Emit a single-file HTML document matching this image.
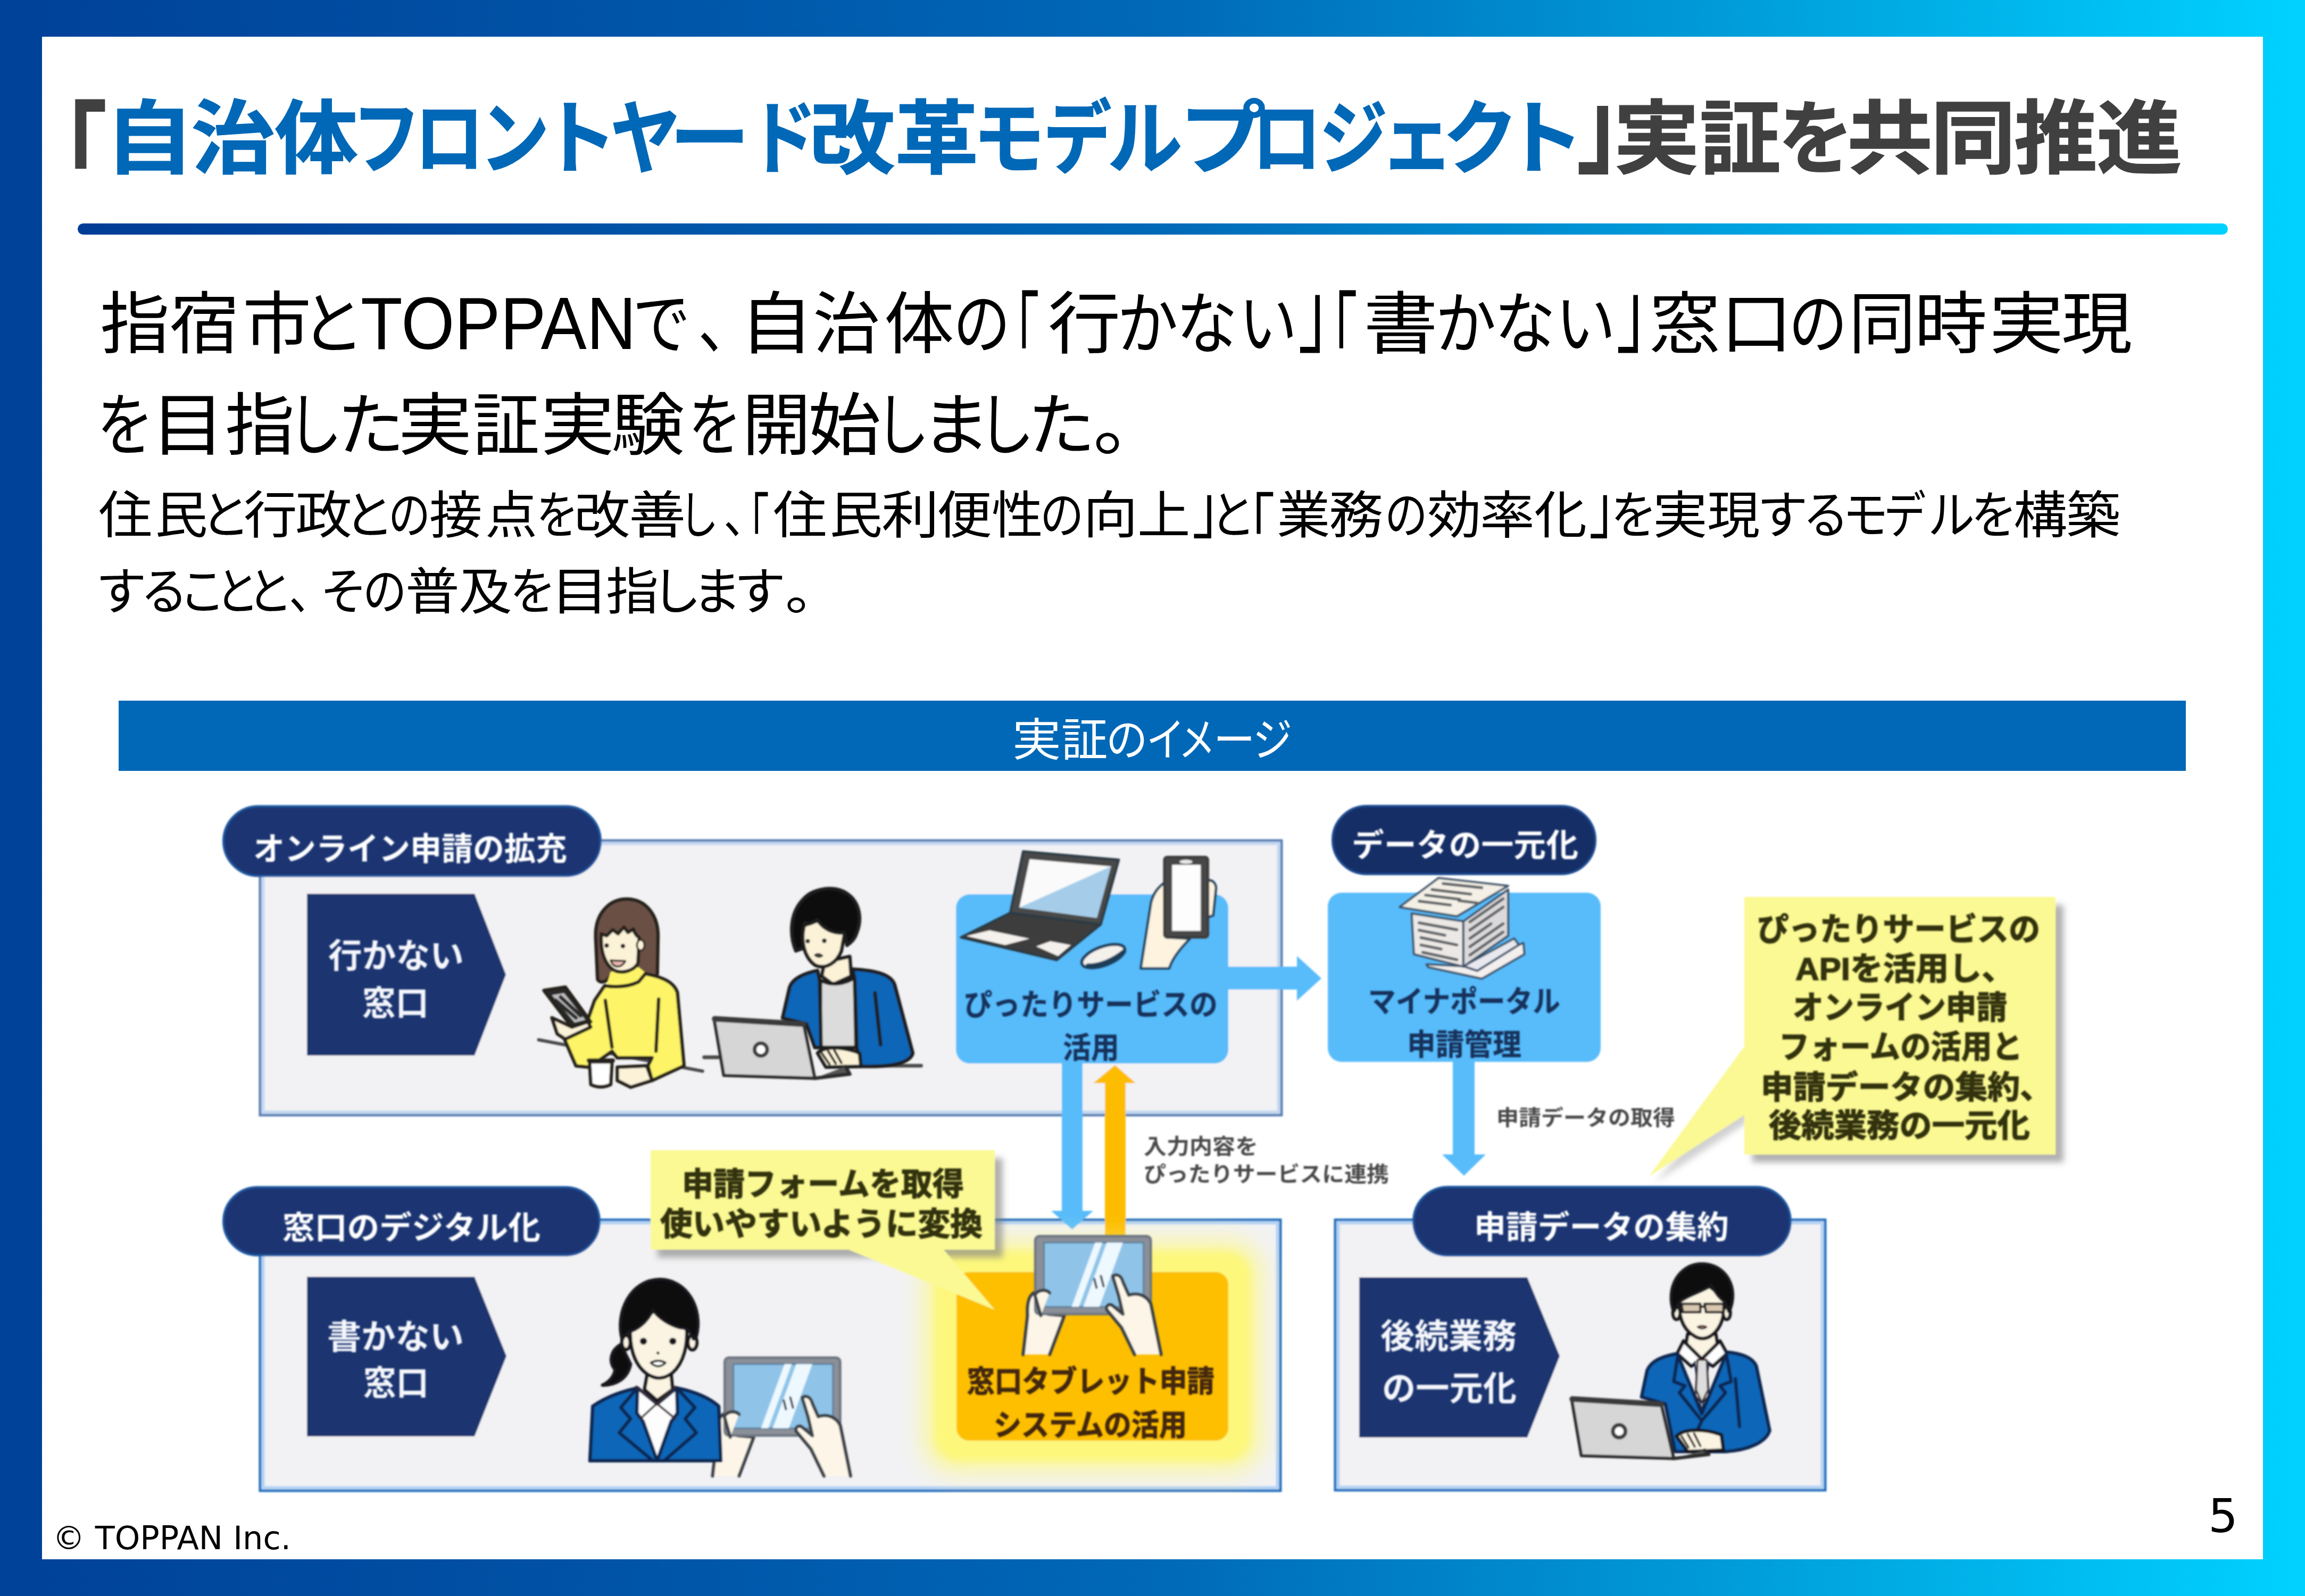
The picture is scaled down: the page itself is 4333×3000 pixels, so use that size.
<!DOCTYPE html>
<html lang="ja">
<head>
<meta charset="utf-8">
<title>自治体フロントヤード改革モデルプロジェクト</title>
<style>
html,body{margin:0;padding:0;}
body{width:4333px;height:3000px;overflow:hidden;position:relative;
 background:linear-gradient(90deg,#004199 0%,#0052a6 25%,#0068b7 50%,#009cd9 75%,#00d2ff 100%);
 font-family:"Liberation Sans","Noto Sans CJK JP",sans-serif;}
#panel{position:absolute;left:79px;top:69px;width:4175px;height:2862px;background:#fff;}
.r{position:absolute;white-space:nowrap;transform-origin:0 0;line-height:1;font-family:"Liberation Sans","Noto Sans CJK JP",sans-serif;}
#rule{position:absolute;left:146px;top:420px;width:4042px;height:21px;border-radius:11px;
 background:linear-gradient(90deg,#003c96 0%,#0068b7 50%,#00d2ff 100%);}
#banner{position:absolute;left:223px;top:1317px;width:3886px;height:132px;background:#0068b7;}
#copy{position:absolute;left:99px;top:2861px;font-size:60.5px;line-height:1;font-family:"DejaVu Sans","Liberation Sans",sans-serif;color:#000;white-space:nowrap;}
#pg{position:absolute;left:4151px;top:2806px;font-size:88px;line-height:1;font-family:"DejaVu Sans","Liberation Sans",sans-serif;color:#000;}
#dg{position:absolute;left:0;top:0;width:4333px;height:3000px;}
.title{font-size:160px;font-weight:700;top:185.9px;color:#000}
.l1{font-size:136px;font-weight:400;top:545.9px;color:#000}
.l2{font-size:136px;font-weight:400;top:737.0px;color:#000}
.l3{font-size:104px;font-weight:400;top:921.0px;color:#000}
.l4{font-size:104px;font-weight:400;top:1064.7px;color:#000}
.banner{font-size:90px;font-weight:400;top:1348.6px;color:#fff}
.title{-webkit-text-stroke:1.5px currentColor;}
</style>
</head>
<body>
<div id="panel"></div>
<div id="rule"></div>
<div id="banner"></div>
<div class="ln" aria-label="「自治体フロントヤード改革モデルプロジェクト」実証を共同推進"><span class="r title" style="left:37.4px;top:190.0px;transform:scale(1.026,1.254);color:#404040">「</span><span class="r title" style="left:197.3px;transform:scale(1.048,0.945);color:#0068b7">自</span><span class="r title" style="left:358.5px;transform:scale(0.989,0.945);color:#0068b7">治</span><span class="r title" style="left:516.0px;transform:scale(0.981,0.945);color:#0068b7">体</span><span class="r title" style="left:661.8px;transform:scale(0.804,0.945);color:#0068b7">フ</span><span class="r title" style="left:778.6px;transform:scale(0.818,0.945);color:#0068b7">ロ</span><span class="r title" style="left:901.5px;transform:scale(0.817,0.945);color:#0068b7">ン</span><span class="r title" style="left:1016.8px;transform:scale(0.893,0.945);color:#0068b7">ト</span><span class="r title" style="left:1147.4px;transform:scale(0.824,0.945);color:#0068b7">ヤ</span><span class="r title" style="left:1258.9px;transform:scale(0.938,0.945);color:#0068b7">ー</span><span class="r title" style="left:1406.7px;transform:scale(0.802,0.945);color:#0068b7">ド</span><span class="r title" style="left:1520.5px;transform:scale(1.010,0.945);color:#0068b7">改</span><span class="r title" style="left:1682.1px;transform:scale(0.983,0.945);color:#0068b7">革</span><span class="r title" style="left:1828.6px;transform:scale(0.845,0.945);color:#0068b7">モ</span><span class="r title" style="left:1960.9px;transform:scale(0.803,0.945);color:#0068b7">デ</span><span class="r title" style="left:2081.5px;transform:scale(0.880,0.945);color:#0068b7">ル</span><span class="r title" style="left:2216.8px;transform:scale(1.020,0.945);color:#0068b7">プ</span><span class="r title" style="left:2352.6px;transform:scale(0.818,0.945);color:#0068b7">ロ</span><span class="r title" style="left:2480.2px;transform:scale(0.801,0.945);color:#0068b7">ジ</span><span class="r title" style="left:2594.0px;transform:scale(0.868,0.945);color:#0068b7">ェ</span><span class="r title" style="left:2712.4px;transform:scale(0.886,0.945);color:#0068b7">ク</span><span class="r title" style="left:2824.8px;transform:scale(0.954,0.945);color:#0068b7">ト</span><span class="r title" style="left:2964.0px;top:141.3px;transform:scale(1.011,1.238);color:#404040">」</span><span class="r title" style="left:3032.9px;transform:scale(1.014,0.945);color:#404040">実</span><span class="r title" style="left:3195.2px;transform:scale(0.954,0.945);color:#404040">証</span><span class="r title" style="left:3342.9px;transform:scale(0.880,0.945);color:#404040">を</span><span class="r title" style="left:3471.7px;transform:scale(1.008,0.945);color:#404040">共</span><span class="r title" style="left:3629.0px;transform:scale(1.004,0.945);color:#404040">同</span><span class="r title" style="left:3786.1px;transform:scale(0.980,0.945);color:#404040">推</span><span class="r title" style="left:3940.6px;transform:scale(1.006,0.945);color:#404040">進</span></div>
<div class="ln" aria-label="指宿市とTOPPANで、自治体の「行かない」「書かない」窓口の同時実現"><span class="r l1" style="left:187.5px;transform:scale(0.963,0.937)">指</span><span class="r l1" style="left:319.1px;transform:scale(0.965,0.937)">宿</span><span class="r l1" style="left:456.3px;transform:scale(0.951,0.937)">市</span><span class="r l1" style="left:566.4px;transform:scale(0.874,0.937)">と</span><span class="r l1" style="left:677.6px;top:537.5px;transform:scale(0.947,1.026)">TOPPAN</span><span class="r l1" style="left:1188.8px;transform:scale(0.799,0.937)">で</span><span class="r l1" style="left:1312.0px;transform:scale(0.800,0.937)">、</span><span class="r l1" style="left:1389.5px;transform:scale(1.021,0.937)">自</span><span class="r l1" style="left:1527.5px;transform:scale(0.930,0.937)">治</span><span class="r l1" style="left:1662.1px;transform:scale(0.969,0.937)">体</span><span class="r l1" style="left:1791.9px;transform:scale(0.789,0.937)">の</span><span class="r l1" style="left:1861.4px;top:546.2px;transform:scale(0.684,1.236)">「</span><span class="r l1" style="left:1969.5px;transform:scale(1.004,0.937)">行</span><span class="r l1" style="left:2099.5px;transform:scale(0.843,0.937)">か</span><span class="r l1" style="left:2210.6px;transform:scale(0.849,0.937)">な</span><span class="r l1" style="left:2329.3px;transform:scale(0.806,0.937)">い</span><span class="r l1" style="left:2439.7px;top:507.0px;transform:scale(0.860,1.236)">」</span><span class="r l1" style="left:2453.6px;top:546.2px;transform:scale(0.721,1.236)">「</span><span class="r l1" style="left:2562.8px;transform:scale(1.030,0.937)">書</span><span class="r l1" style="left:2697.7px;transform:scale(0.842,0.937)">か</span><span class="r l1" style="left:2808.7px;transform:scale(0.848,0.937)">な</span><span class="r l1" style="left:2923.8px;transform:scale(0.833,0.937)">い</span><span class="r l1" style="left:3037.7px;top:507.0px;transform:scale(0.860,1.236)">」</span><span class="r l1" style="left:3099.6px;transform:scale(0.985,0.937)">窓</span><span class="r l1" style="left:3234.1px;transform:scale(0.996,0.937)">口</span><span class="r l1" style="left:3362.2px;transform:scale(0.816,0.937)">の</span><span class="r l1" style="left:3475.0px;transform:scale(0.930,0.937)">同</span><span class="r l1" style="left:3597.9px;transform:scale(1.012,0.937)">時</span><span class="r l1" style="left:3738.7px;transform:scale(1.033,0.937)">実</span><span class="r l1" style="left:3875.1px;transform:scale(0.981,0.937)">現</span></div>
<div class="ln" aria-label="を目指した実証実験を開始しました。"><span class="r l2" style="left:182.3px;transform:scale(0.789,0.940)">を</span><span class="r l2" style="left:283.3px;transform:scale(1.032,0.940)">目</span><span class="r l2" style="left:422.7px;transform:scale(0.963,0.940)">指</span><span class="r l2" style="left:541.0px;transform:scale(0.750,0.940)">し</span><span class="r l2" style="left:633.6px;transform:scale(0.930,0.940)">た</span><span class="r l2" style="left:748.3px;transform:scale(1.026,0.940)">実</span><span class="r l2" style="left:888.3px;transform:scale(0.930,0.940)">証</span><span class="r l2" style="left:1016.2px;transform:scale(1.026,0.940)">実</span><span class="r l2" style="left:1148.9px;transform:scale(1.016,0.940)">験</span><span class="r l2" style="left:1294.0px;transform:scale(0.737,0.940)">を</span><span class="r l2" style="left:1395.3px;transform:scale(0.950,0.940)">開</span><span class="r l2" style="left:1519.0px;transform:scale(1.008,0.940)">始</span><span class="r l2" style="left:1645.0px;transform:scale(0.751,0.940)">し</span><span class="r l2" style="left:1732.2px;transform:scale(0.953,0.940)">ま</span><span class="r l2" style="left:1838.4px;transform:scale(0.783,0.940)">し</span><span class="r l2" style="left:1931.9px;transform:scale(0.934,0.940)">た</span><span class="r l2" style="left:2054.9px;transform:scale(1.024,0.940)">。</span></div>
<div class="ln" aria-label="住民と行政との接点を改善し、「住民利便性の向上」と「業務の効率化」を実現するモデルを構築"><span class="r l3" style="left:185.0px;transform:scale(0.978,0.923)">住</span><span class="r l3" style="left:291.3px;transform:scale(0.957,0.923)">民</span><span class="r l3" style="left:376.8px;transform:scale(0.897,0.923)">と</span><span class="r l3" style="left:457.6px;transform:scale(0.969,0.923)">行</span><span class="r l3" style="left:554.9px;transform:scale(1.029,0.923)">政</span><span class="r l3" style="left:647.1px;transform:scale(0.902,0.923)">と</span><span class="r l3" style="left:729.9px;transform:scale(0.762,0.923)">の</span><span class="r l3" style="left:807.1px;transform:scale(0.959,0.923)">接</span><span class="r l3" style="left:912.3px;transform:scale(0.943,0.923)">点</span><span class="r l3" style="left:1008.3px;transform:scale(0.765,0.923)">を</span><span class="r l3" style="left:1079.4px;transform:scale(1.016,0.923)">改</span><span class="r l3" style="left:1181.8px;transform:scale(1.032,0.923)">善</span><span class="r l3" style="left:1277.4px;transform:scale(0.706,0.923)">し</span><span class="r l3" style="left:1360.4px;transform:scale(0.800,0.923)">、</span><span class="r l3" style="left:1369.9px;top:925.2px;transform:scale(0.731,1.162)">「</span><span class="r l3" style="left:1452.6px;transform:scale(0.979,0.923)">住</span><span class="r l3" style="left:1558.8px;transform:scale(0.960,0.923)">民</span><span class="r l3" style="left:1656.9px;transform:scale(1.043,0.923)">利</span><span class="r l3" style="left:1760.8px;transform:scale(0.999,0.923)">便</span><span class="r l3" style="left:1864.1px;transform:scale(0.930,0.923)">性</span><span class="r l3" style="left:1955.4px;transform:scale(0.794,0.923)">の</span><span class="r l3" style="left:2035.9px;transform:scale(0.990,0.923)">向</span><span class="r l3" style="left:2138.2px;transform:scale(0.957,0.923)">上</span><span class="r l3" style="left:2241.1px;top:894.7px;transform:scale(0.987,1.199)">」</span><span class="r l3" style="left:2274.8px;transform:scale(0.818,0.923)">と</span><span class="r l3" style="left:2299.2px;top:925.2px;transform:scale(0.938,1.162)">「</span><span class="r l3" style="left:2400.2px;transform:scale(0.968,0.923)">業</span><span class="r l3" style="left:2498.1px;transform:scale(0.986,0.923)">務</span><span class="r l3" style="left:2603.0px;transform:scale(0.776,0.923)">の</span><span class="r l3" style="left:2683.0px;transform:scale(0.978,0.923)">効</span><span class="r l3" style="left:2781.6px;transform:scale(0.989,0.923)">率</span><span class="r l3" style="left:2883.5px;transform:scale(0.955,0.923)">化</span><span class="r l3" style="left:2987.3px;top:894.7px;transform:scale(0.931,1.199)">」</span><span class="r l3" style="left:3028.1px;transform:scale(0.835,0.923)">を</span><span class="r l3" style="left:3106.9px;transform:scale(0.988,0.923)">実</span><span class="r l3" style="left:3208.8px;transform:scale(0.956,0.923)">現</span><span class="r l3" style="left:3302.8px;transform:scale(0.920,0.923)">す</span><span class="r l3" style="left:3389.0px;transform:scale(0.831,0.923)">る</span><span class="r l3" style="left:3463.6px;transform:scale(0.823,0.923)">モ</span><span class="r l3" style="left:3541.1px;transform:scale(0.763,0.923)">デ</span><span class="r l3" style="left:3623.8px;transform:scale(0.849,0.923)">ル</span><span class="r l3" style="left:3704.6px;transform:scale(0.836,0.923)">を</span><span class="r l3" style="left:3784.7px;transform:scale(0.973,0.923)">構</span><span class="r l3" style="left:3883.7px;transform:scale(0.983,0.923)">築</span></div>
<div class="ln" aria-label="することと、その普及を目指します。"><span class="r l4" style="left:179.8px;transform:scale(0.920,0.920)">す</span><span class="r l4" style="left:263.7px;transform:scale(0.857,0.920)">る</span><span class="r l4" style="left:337.0px;transform:scale(0.833,0.920)">こ</span><span class="r l4" style="left:405.0px;transform:scale(0.789,0.920)">と</span><span class="r l4" style="left:464.8px;transform:scale(0.818,0.920)">と</span><span class="r l4" style="left:543.1px;transform:scale(0.800,0.920)">、</span><span class="r l4" style="left:601.5px;transform:scale(0.846,0.920)">そ</span><span class="r l4" style="left:681.9px;transform:scale(0.794,0.920)">の</span><span class="r l4" style="left:762.1px;transform:scale(0.979,0.920)">普</span><span class="r l4" style="left:862.1px;transform:scale(0.964,0.920)">及</span><span class="r l4" style="left:957.6px;transform:scale(0.840,0.920)">を</span><span class="r l4" style="left:1034.6px;transform:scale(1.050,0.920)">目</span><span class="r l4" style="left:1139.2px;transform:scale(0.953,0.920)">指</span><span class="r l4" style="left:1224.6px;transform:scale(0.897,0.920)">し</span><span class="r l4" style="left:1301.8px;transform:scale(0.880,0.920)">ま</span><span class="r l4" style="left:1380.4px;transform:scale(0.934,0.920)">す</span><span class="r l4" style="left:1475.9px;transform:scale(1.031,0.920)">。</span></div>
<div class="ln" aria-label="実証のイメージ"><span class="r banner" style="left:1902.5px;transform:scale(1.018,0.950)">実</span><span class="r banner" style="left:1994.9px;transform:scale(0.971,0.950)">証</span><span class="r banner" style="left:2079.0px;transform:scale(0.872,0.950)">の</span><span class="r banner" style="left:2154.6px;transform:scale(0.804,0.950)">イ</span><span class="r banner" style="left:2214.8px;transform:scale(0.778,0.950)">メ</span><span class="r banner" style="left:2281.2px;transform:scale(0.872,0.950)">ー</span><span class="r banner" style="left:2354.6px;transform:scale(0.825,0.950)">ジ</span></div>

<svg id="dg" viewBox="0 0 4333 3000" width="4333" height="3000" font-family="'Liberation Sans','Noto Sans CJK JP',sans-serif" font-weight="700">
<defs>
<filter id="sh" x="-10%" y="-10%" width="130%" height="130%"><feGaussianBlur stdDeviation="6"/></filter>
<filter id="glow" x="-20%" y="-20%" width="140%" height="140%"><feGaussianBlur stdDeviation="7"/></filter>
<filter id="soft" x="-5%" y="-5%" width="110%" height="110%"><feGaussianBlur stdDeviation="1.6"/></filter>
<filter id="glow2" x="-30%" y="-30%" width="160%" height="160%"><feGaussianBlur stdDeviation="22"/></filter>
</defs>
<g filter="url(#soft)">
<!-- gray boxes -->
<rect x="489" y="1580" width="1920" height="516" fill="#f2f2f4" stroke="#5b7fb4" stroke-width="5"/>
<rect x="494.500" y="1585.500" width="1909" height="505" fill="none" stroke="#c3d8f2" stroke-width="6"/>
<rect x="489" y="2293" width="1918" height="509" fill="#f2f2f4" stroke="#1e6fbe" stroke-width="5"/>
<rect x="494.500" y="2298.500" width="1907" height="498" fill="none" stroke="#b4d3f4" stroke-width="6"/>
<rect x="2510" y="2293" width="921" height="508" fill="#f2f2f4" stroke="#1e6fbe" stroke-width="5"/>
<rect x="2515.500" y="2298.500" width="910" height="497" fill="none" stroke="#b4d3f4" stroke-width="6"/>
<!-- pentagons -->
<path d="M577,1680 H892 L951,1832 L892,1984 H577 Z" fill="#1b3570"/>
<path d="M577,2400 H892 L952,2549 L892,2700 H577 Z" fill="#1b3570"/>
<path d="M2555,2401 H2871 L2932,2549 L2871,2702 H2555 Z" fill="#1b3570"/>
<!-- light blue boxes -->
<rect x="1797" y="1681" width="512" height="318" rx="26" fill="#58bcfb"/>
<rect x="2496" y="1678" width="513" height="318" rx="26" fill="#58bcfb"/>
<!-- arrows -->
<path d="M2305,1817 H2438 V1797 L2484,1839 L2438,1881 V1860 H2305 Z" fill="#58bcfb"/>
<path d="M2731,1990 H2772 V2170 H2793 L2752,2210 L2711,2170 H2731 Z" fill="#58bcfb"/>
<path d="M1996,1990 H2035 V2276 H2055 L2015.500,2311 L1976,2276 H1996 Z" fill="#58bcfb"/>
<path d="M2077,2400 V2036 H2055 L2096,2002 L2135,2036 H2116 V2400 Z" fill="#fdbc00"/>
<!-- orange box with glow -->
<rect x="1735" y="2330" width="638" height="438" rx="60" fill="#fdf88a" filter="url(#glow2)" opacity=".8"/>
<rect x="1757" y="2352" width="594" height="394" rx="46" fill="#fdf77c" filter="url(#glow)"/>
<rect x="1798" y="2391" width="511" height="317" rx="24" fill="#fdbf00"/>
<!-- callout 1 (right) -->
<g>
<path d="M3294,1701 H3879 V2185 H3294 Z" fill="#7d7d7d" filter="url(#sh)" opacity=".6"/>
<path d="M3300,2100 L3112,2222 L3300,2000 Z" fill="#9a9a9a" filter="url(#sh)" opacity=".45"/>
<path d="M3279,1686 H3864 V2170 H3279 V2096 L3100,2211 L3279,1967 Z" fill="#fbf994"/>
</g>
<!-- callout 2 -->
<g>
<path d="M1236,2177 H1885 V2364 H1236 Z" fill="#7d7d7d" filter="url(#sh)" opacity=".6"/>
<path d="M1223,2162 H1870 V2349 H1774 L1870,2462 L1595,2349 H1223 Z" fill="#fbf994"/>
</g>
<!-- pills -->
<rect x="420" y="1515.500" width="709" height="131" rx="65.500" fill="#1b3672" stroke="#1d56a0" stroke-width="4"/>
<rect x="420" y="2231.500" width="707" height="128" rx="64" fill="#1b3672" stroke="#1d56a0" stroke-width="4"/>
<rect x="2657" y="2231" width="709" height="129" rx="64.500" fill="#1b3672" stroke="#1d56a0" stroke-width="4"/>
<rect x="2505" y="1515" width="494" height="128" rx="64" fill="#162f66" stroke="#1d4a90" stroke-width="4"/>
</g>
<g filter="url(#soft)" stroke-linejoin="round" stroke-linecap="round">
<!-- woman with phone -->
<g transform="translate(1000,1680) scale(0.2507)" stroke="#26241a" stroke-width="26">
<path d="M50,1095 L1280,1330" stroke="#4a4a4a" stroke-width="24" fill="none"/>
<path d="M492,640 L478,330 C470,150 580,40 710,40 C860,40 950,170 945,330 L940,600 C920,650 870,640 840,610 L790,560 L600,600 L560,650 C530,670 500,660 492,640 Z" fill="#6b4f45"/>
<path d="M590,585 L800,550 L860,600 L800,690 L555,700 Z" fill="#fdf467" stroke="none"/>
<path d="M520,300 C512,420 540,520 610,570 C680,610 770,570 795,520 L805,330 C790,320 770,300 760,265 L720,290 L690,250 L645,300 L605,270 L560,315 Z" fill="#fbf2d8"/>
<ellipse cx="815" cy="385" rx="28" ry="40" fill="#fbf2d8" stroke-width="14"/>
<circle cx="560" cy="388" r="17" fill="#26241a" stroke="none"/>
<circle cx="682" cy="392" r="17" fill="#26241a" stroke="none"/>
<path d="M590,500 C610,560 670,560 700,505 Z" fill="#e9b8b0" stroke-width="14"/>
<path d="M545,690 L470,800 L400,1000 L240,1080 L330,1290 L430,1300 L600,1180 L640,1230 L900,1230 L870,1290 L900,1400 L1140,1290 L1090,740 C1060,650 950,620 850,600 L800,660 C720,700 620,700 545,690 Z" fill="#fdf467"/>
<path d="M550,800 L600,1150 M950,790 L930,1180" fill="none"/>
<path d="M640,1300 L860,1290 L900,1400 L740,1450 L640,1400 Z" fill="#fbf2d8"/>
<path d="M90,725 L250,700 L440,960 L300,1000 Z" fill="#2c2c2c"/>
<path d="M150,760 L240,745 L400,945 L320,965 Z" fill="#bdbdbd" stroke="none"/>
<path d="M180,800 L330,930 M215,775 L365,915" stroke="#2c2c2c" stroke-width="28" fill="none"/>
<path d="M150,930 L300,1000 L420,960 L440,1000 L250,1090 L190,1050 Z" fill="#fbf2d8"/>
<path d="M432,1260 H600 L590,1430 Q515,1465 442,1430 Z" fill="#fff"/>
<path d="M425,1250 H607" stroke-width="30"/>
</g>
<!-- man with laptop -->
<g transform="translate(1300,1640) scale(0.26316)" stroke="#1e1e1e" stroke-width="25">
<path d="M90,1320 H190 M1190,1380 H1640" stroke="#4a4a4a" stroke-width="26" fill="none"/>
<path d="M950,640 L1130,600 L1140,740 L1010,800 L930,740 Z" fill="#fbf2d8"/>
<path d="M800,380 C780,480 800,600 880,660 C960,700 1040,640 1070,560 L1100,400 L940,330 Z" fill="#fbf2d8"/>
<path d="M745,560 C700,450 700,300 790,200 C860,110 1020,90 1110,150 C1200,210 1220,330 1180,430 C1170,470 1140,500 1110,520 L1090,430 C1010,440 940,400 900,340 C860,360 830,380 810,360 C790,420 790,480 800,540 Z" fill="#0a0a0a"/>
<circle cx="830" cy="490" r="15" fill="#1e1e1e" stroke="none"/>
<circle cx="948" cy="488" r="16" fill="#1e1e1e" stroke="none"/>
<path d="M880,590 Q905,570 935,595 Q905,615 880,590 Z" fill="#555" stroke-width="10"/>
<path d="M920,770 C1000,810 1090,800 1165,750 L1175,1250 L920,1250 Z" fill="#dcdcdc"/>
<path d="M900,700 C800,720 720,760 700,820 L650,1040 L820,1080 L880,1250 L925,1250 L915,770 Z" fill="#0b66b8"/>
<path d="M1150,690 C1300,700 1420,720 1450,800 L1580,1290 C1560,1370 1400,1390 1210,1385 L1180,1250 L1165,760 Z" fill="#0b66b8"/>
<path d="M1310,860 L1350,1230" fill="none"/>
<path d="M900,1290 C960,1230 1100,1250 1200,1290 L1210,1385 L960,1390 Z" fill="#fbf2d8"/>
<path d="M930,1290 L985,1370 M975,1275 L1030,1365 M1020,1270 L1070,1360" fill="none" stroke-width="16"/>
<path d="M160,1040 L800,1080 L880,1470 L230,1450 Z" fill="#d6d6d6" stroke="#2a2a2a" stroke-width="22"/>
<path d="M165,1045 L800,1083" stroke="#3a3a3a" stroke-width="40" fill="none"/>
<circle cx="495" cy="1265" r="45" fill="#fff" stroke="#3a3a3a" stroke-width="26"/>
<path d="M880,1470 L1130,1440 L1100,1385" fill="#555" stroke="#2a2a2a"/>
</g>

<!-- laptop, mouse, hand with phone -->
<g transform="translate(1780,1570) scale(0.24295)" stroke="#2b3a44" stroke-width="18">
<path d="M490,600 L1190,690 L850,965 L110,790 Z" fill="#3c3c3c"/>
<path d="M150,780 L330,735 L640,800 L450,850 Z M690,860 L800,820 L960,850 L860,935 Z" fill="#f4f0ec" stroke="none"/>
<path d="M590,125 L1330,190 L1190,690 L490,600 Z" fill="#4a4a4a"/>
<path d="M640,185 L1270,240 L1160,640 L560,560 Z" fill="#fafafa" stroke="none"/>
<path d="M1270,240 L1160,640 L560,560 Z" fill="#a5cdea" stroke="none"/>
<ellipse cx="1210" cy="935" rx="175" ry="72" transform="rotate(-20 1210 935)" fill="#f4f0ec" stroke="#1c3d5a" stroke-width="22"/>
<path d="M1090,1010 Q1230,1010 1370,900" fill="none" stroke="#1c3d5a" stroke-width="34"/>
<path d="M1690,360 C1640,400 1600,440 1580,520 L1500,1030 L1720,1030 C1740,960 1800,880 1880,800 L1700,790 Z" fill="#fdf3df" stroke="#1c3d5a"/>
<path d="M2010,350 C2060,340 2090,380 2080,430 L2060,620 L2000,640 Z" fill="#fdf3df" stroke="#1c3d5a"/>
<rect x="1682" y="168" width="338" height="622" rx="22" fill="#474747" stroke="#3a3a3a"/>
<rect x="1742" y="228" width="222" height="512" fill="#fdfdfd" stroke="none"/>
<ellipse cx="1850" cy="205" rx="50" ry="16" fill="#e8e8e8" stroke="none"/>
</g>
<!-- document pile -->
<g transform="translate(2560,1620) scale(0.17354)" stroke="#3a5068" stroke-width="22">
<path d="M700,1110 L1100,1130 L1750,880 L1760,1000 L1300,1265 L720,1140 Z" fill="#f3efee"/>
<path d="M1100,1130 L1650,830 L1700,900 L1250,1180 Z" fill="#e8e8ee"/>
<path d="M540,560 L1100,645 L1100,1135 L565,1000 Z" fill="#ece8e6"/>
<path d="M1100,645 L1585,300 L1585,800 L1100,1135 Z" fill="#dcd9da"/>
<path d="M410,490 L830,175 L1585,260 L1030,590 Z" fill="#f4f0e6"/>
<g stroke="#5e6266" stroke-width="30" fill="none">
<path d="M760,300 L1180,350 M690,360 L1060,405 M620,425 L960,468 M880,235 L1300,280 M1050,420 L1250,445"/>
<path d="M620,660 L1030,735 M620,740 L900,795 M640,820 L1030,900 M640,900 L860,945 M660,980 L1030,1060"/>
<path d="M1170,650 L1530,400 M1170,740 L1530,490 M1170,830 L1400,670 M1170,920 L1530,670 M1170,1010 L1530,760"/>
</g>
</g>

<!-- tablet with hands (symbol) : coordinates = orange zoom (scale 3.627, offset 1780,2280) -->
<g id="tab" transform="translate(1780,2280) scale(0.27571)" stroke="#3a4046" stroke-width="22">
<path d="M600,540 C560,560 545,620 550,700 L520,965 L700,965 L800,700 L690,690 L690,640 L750,560 C740,530 700,520 670,560 L630,620 Z" fill="#fdf6e8" stroke="none"/>
<path d="M520,965 L550,700 C545,620 560,560 600,540 L630,620 L670,560 C700,520 740,530 750,560 L690,640 L690,690 L800,700 L700,965" fill="none"/>
<rect x="602" y="158" width="788" height="532" rx="28" fill="#8a8f98" stroke="#6d7580" stroke-width="16"/>
<rect x="662" y="202" width="678" height="438" fill="#8fc4e8" stroke="#5b7e99" stroke-width="10"/>
<path d="M1010,202 L1060,202 L900,640 L850,640 Z M1090,202 L1200,202 L1040,640 L930,640 Z" fill="#eef8ff" stroke="none"/>
<path d="M1005,450 L1020,510 M1050,430 L1068,500" fill="none" stroke-width="14"/>
<path d="M1130,430 C1160,410 1190,430 1200,470 L1240,560 C1300,540 1360,560 1390,620 L1460,965 L1280,965 L1190,780 L1090,660 C1080,630 1110,610 1140,640 L1200,690 L1170,560 Z" fill="#fdf6e8" stroke="none"/>
<path d="M1460,965 L1390,620 C1360,560 1300,540 1240,560 L1200,470 C1190,430 1160,410 1130,430 L1170,560 L1200,690 L1140,640 C1110,610 1080,630 1090,660 L1190,780 L1280,965" fill="none"/>
<path d="M640,700 L600,560 C620,520 680,520 700,545" fill="#fdf6e8"/>
</g>
<use href="#tab" transform="translate(-583.800,228.300)"/>
<!-- staff woman -->
<g transform="translate(1080,2380) scale(0.26316)" stroke="#15151a" stroke-width="24">
<path d="M330,560 C260,600 240,680 290,740 C280,800 240,830 200,850 C300,850 380,800 400,700 Z" fill="#0a0a0a"/>
<path d="M520,770 L690,770 L700,880 L590,960 L500,880 Z" fill="#fbf4e2"/>
<path d="M130,1000 C250,920 360,890 450,870 L590,1000 L730,870 C830,890 950,930 1030,1000 L1045,1390 L110,1390 Z" fill="#0b66b8" stroke="#0a2550"/>
<path d="M450,870 L590,985 L730,870 L735,1050 L690,1110 L590,1390 L490,1110 L445,1050 Z" fill="#fdfdfd" stroke="#0a2550"/>
<path d="M440,860 L720,1090 M720,860 L470,1090" fill="none" stroke="#3a2a2a" stroke-width="14"/>
<path d="M440,880 L330,1010 L400,1090 L320,1190 L560,1390 M740,880 L860,1010 L790,1090 L870,1190 L640,1390" fill="none" stroke="#0a2550"/>
<path d="M400,430 C390,560 420,700 520,770 C580,810 640,810 700,760 C780,690 810,560 800,430 L600,300 Z" fill="#fbf4e2"/>
<ellipse cx="842" cy="545" rx="32" ry="52" fill="#fbf4e2"/>
<ellipse cx="368" cy="545" rx="30" ry="50" fill="#fbf4e2"/>
<path d="M340,520 C290,330 400,95 610,95 C800,95 920,300 870,500 L850,520 C830,460 800,440 760,440 C680,420 600,370 560,310 C520,400 440,460 380,470 Z" fill="#0a0a0a"/>
<circle cx="492" cy="536" r="25" fill="#15151a" stroke="none"/>
<circle cx="702" cy="536" r="25" fill="#15151a" stroke="none"/>
<circle cx="596" cy="620" r="10" fill="#15151a" stroke="none"/>
<path d="M545,690 Q597,660 650,690 Q597,740 545,690 Z" fill="#fff" stroke-width="14"/>
</g>
<!-- staff man with glasses -->
<g transform="translate(2920,2360) scale(0.26316)" stroke="#15151a" stroke-width="24">
<path d="M960,560 L1160,560 L1180,680 L1060,760 L940,680 Z" fill="#fbf4e2"/>
<path d="M900,300 C890,420 920,520 1000,570 C1040,600 1090,600 1130,570 C1200,520 1230,420 1220,300 L1060,180 Z" fill="#fbf4e2"/>
<ellipse cx="880" cy="410" rx="26" ry="46" fill="#fbf4e2"/>
<ellipse cx="1238" cy="410" rx="26" ry="46" fill="#fbf4e2"/>
<path d="M860,400 C800,230 900,60 1060,60 C1230,60 1330,230 1255,400 L1225,330 C1180,300 1150,250 1130,210 C1060,260 960,280 900,330 Z" fill="#0a0a0a"/>
<path d="M915,345 H1050 V405 H925 Z M1080,345 H1215 V405 H1090 Z M1050,365 H1080 M880,360 L915,360 M1215,360 L1245,360" fill="#d8c8b0" stroke="#1a1a1a" stroke-width="16"/>
<path d="M1030,510 Q1062,495 1095,510 Q1062,535 1030,510 Z" fill="#c88" stroke-width="10"/>
<path d="M930,610 L1060,740 L1190,610 L1240,700 L1140,790 L1060,740 L985,790 L885,700 Z" fill="#fdfdfd"/>
<path d="M1030,745 L1095,745 L1110,1000 L1060,1060 L1015,1000 Z" fill="#e9e0d8" stroke="#3a2a2a" stroke-width="12"/>
<path d="M885,700 C780,720 700,750 670,820 L630,1010 L800,1060 L870,1400 L1230,1400 C1400,1390 1520,1330 1545,1250 L1450,790 C1420,720 1330,700 1240,690 L1060,1130 Z" fill="#0b66b8" stroke="#0a2550"/>
<path d="M1010,760 L1060,1130 L1110,760" fill="#fdfdfd" stroke="#0a2550" stroke-width="12"/>
<path d="M1030,745 L1095,745 L1105,960 L1060,1050 L1020,960 Z" fill="#ddd" stroke="#3a2a2a" stroke-width="12"/>
<path d="M890,710 L860,900 L940,930 L900,980 L1060,1180 M1235,700 L1270,900 L1190,930 L1230,980 L1060,1180 L960,1400" fill="none" stroke="#0a2550"/>
<path d="M1300,880 L1330,1220" fill="none" stroke="#0a2550"/>
<path d="M880,1290 C940,1230 1090,1240 1200,1280 L1215,1390 L960,1400 Z" fill="#fbf4e2"/>
<path d="M915,1290 L965,1370 M960,1275 L1010,1365 M1005,1270 L1050,1360" fill="none" stroke-width="14"/>
<path d="M130,1020 L770,1060 L860,1450 L200,1430 Z" fill="#d6d6d6" stroke="#2a2a2a" stroke-width="22"/>
<path d="M135,1025 L770,1063" stroke="#3a3a3a" stroke-width="40" fill="none"/>
<circle cx="470" cy="1255" r="45" fill="#fff" stroke="#3a3a3a" stroke-width="26"/>
<path d="M860,1450 L1110,1420 L1080,1390" fill="#555" stroke="#2a2a2a"/>
</g>
</g>
<g filter="url(#soft)">
<!-- pill text -->
<g fill="#fff" font-size="60">
<text x="476" y="1617" textLength="590" lengthAdjust="spacingAndGlyphs">オンライン申請の拡充</text>
<text x="531" y="2329" textLength="485" lengthAdjust="spacingAndGlyphs">窓口のデジタル化</text>
<text x="2771" y="2328" textLength="479" lengthAdjust="spacingAndGlyphs">申請データの集約</text>
<text x="2541" y="1610" textLength="426" lengthAdjust="spacingAndGlyphs">データの一元化</text>
</g>
<!-- pentagon text -->
<g fill="#f4f6fb" font-size="64">
<text x="617" y="1819" textLength="255" lengthAdjust="spacingAndGlyphs">行かない</text>
<text x="681" y="1908" textLength="125" lengthAdjust="spacingAndGlyphs">窓口</text>
<text x="615" y="2535" textLength="257" lengthAdjust="spacingAndGlyphs">書かない</text>
<text x="683" y="2622" textLength="123" lengthAdjust="spacingAndGlyphs">窓口</text>
<text x="2595" y="2534" textLength="256" lengthAdjust="spacingAndGlyphs">後続業務</text>
<text x="2598" y="2632" textLength="253" lengthAdjust="spacingAndGlyphs">の一元化</text>
</g>
<!-- blue box text -->
<g fill="#17305c" font-size="56" stroke="#17305c" stroke-width="0.4">
<text x="1812" y="1908" textLength="477" lengthAdjust="spacingAndGlyphs">ぴったりサービスの</text>
<text x="1998" y="1989" textLength="106" lengthAdjust="spacingAndGlyphs">活用</text>
<text x="2572" y="1902" textLength="361" lengthAdjust="spacingAndGlyphs">マイナポータル</text>
<text x="2645" y="1983" textLength="215" lengthAdjust="spacingAndGlyphs">申請管理</text>
</g>
<!-- orange box text -->
<g fill="#43260f" font-size="56" stroke="#43260f" stroke-width="1.2">
<text x="1818" y="2616" textLength="465" lengthAdjust="spacingAndGlyphs">窓口タブレット申請</text>
<text x="1868" y="2698" textLength="363" lengthAdjust="spacingAndGlyphs">システムの活用</text>
</g>
<!-- small labels -->
<g fill="#4a4a4a" font-size="40">
<text x="2813" y="2115" textLength="336" lengthAdjust="spacingAndGlyphs">申請データの取得</text>
<text x="2150" y="2169" textLength="215" lengthAdjust="spacingAndGlyphs">入力内容を</text>
<text x="2150" y="2221" textLength="461" lengthAdjust="spacingAndGlyphs">ぴったりサービスに連携</text>
</g>
<!-- callout text -->
<g fill="#33320f" font-size="60" stroke="#33320f" stroke-width="1.5">
<text x="3303" y="1768" textLength="532" lengthAdjust="spacingAndGlyphs">ぴったりサービスの</text>
<text x="3375" y="1842" textLength="412" lengthAdjust="spacingAndGlyphs">APIを活用し、</text>
<text x="3370" y="1915" textLength="403" lengthAdjust="spacingAndGlyphs">オンライン申請</text>
<text x="3344" y="1989" textLength="458" lengthAdjust="spacingAndGlyphs">フォームの活用と</text>
<text x="3310" y="2065" textLength="548" lengthAdjust="spacingAndGlyphs">申請データの集約、</text>
<text x="3325" y="2137" textLength="491" lengthAdjust="spacingAndGlyphs">後続業務の一元化</text>
<text x="1282" y="2247" textLength="530" lengthAdjust="spacingAndGlyphs">申請フォームを取得</text>
<text x="1241" y="2322" textLength="606" lengthAdjust="spacingAndGlyphs">使いやすいように変換</text>
</g>
</g>
</svg>
<div id="copy">© TOPPAN Inc.</div>
<div id="pg">5</div>
</body>
</html>
